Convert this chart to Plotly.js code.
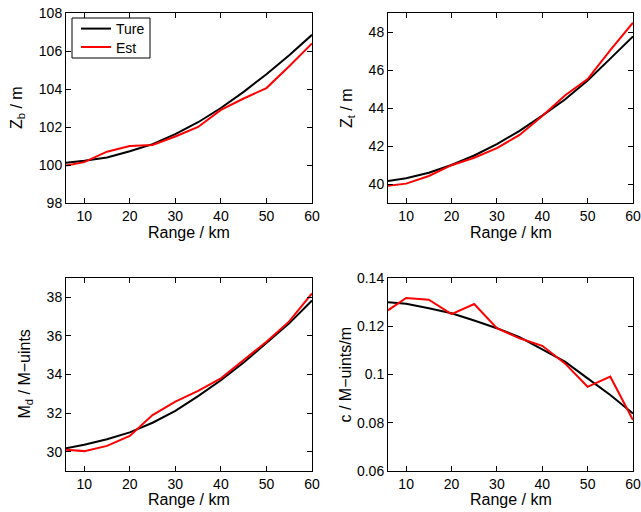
<!DOCTYPE html>
<html>
<head>
<meta charset="utf-8">
<script src="https://cdn.plot.ly/plotly-3.0.1.min.js"></script>
<style>html,body{margin:0;padding:0;background:#fff;}#plot{width:641px;height:512px;}</style>
</head>
<body>
<div id="plot"></div>
<script>
// Range (km)
var range = [6, 10, 15, 20, 25, 30, 35, 40, 45, 50, 55, 60];

// Z_b / m
var zbTrue = [100.12, 100.22, 100.4, 100.72, 101.1, 101.62, 102.25, 103.0, 103.85, 104.78, 105.78, 106.85];
var zbEst  = [99.97, 100.15, 100.7, 101.0, 101.05, 101.5, 102.0, 102.9, 103.5, 104.05, 105.2, 106.4];

// Z_t / m
var ztTrue = [40.16, 40.3, 40.59, 41.0, 41.5, 42.1, 42.8, 43.6, 44.45, 45.45, 46.6, 47.77];
var ztEst  = [39.91, 40.02, 40.42, 40.99, 41.38, 41.89, 42.58, 43.58, 44.66, 45.52, 47.05, 48.49];

// M_d / M-uints
var mdTrue = [30.18, 30.36, 30.65, 31.0, 31.5, 32.12, 32.88, 33.7, 34.62, 35.65, 36.65, 37.83];
var mdEst  = [30.1, 30.03, 30.3, 30.82, 31.9, 32.6, 33.15, 33.8, 34.75, 35.7, 36.75, 38.2];

// c / M-uints/m
var cTrue = [0.1299, 0.1293, 0.1275, 0.1254, 0.1224, 0.1192, 0.1155, 0.1105, 0.1053, 0.0984, 0.0915, 0.0838];
var cEst  = [0.1266, 0.1317, 0.1310, 0.1250, 0.1292, 0.1192, 0.1150, 0.1119, 0.1046, 0.0949, 0.0991, 0.0811];

var seriesNames = ['Ture', 'Est'];
var xTicks = [10, 20, 30, 40, 50, 60];
var xTitle = 'Range / km';
var yTitles = ['Z<sub>b</sub> / m', 'Z<sub>t</sub> / m', 'M<sub>d</sub> / M\u2212uints', 'c / M\u2212uints/m'];

var W = 641, H = 512;
var xdom = [[66/W, 312/W], [388/W, 633/W]];
var ydom = [[1 - 203/H, 1 - 13/H], [1 - 471/H, 1 - 278/H]];
// title centres (px)
var yTitleX = [17, 347, 25, 345];
var xTitleY = [232, 499.5];

var panels = [
  {t: zbTrue, e: zbEst, yr: [98, 108], yt: [98, 100, 102, 104, 106, 108]},
  {t: ztTrue, e: ztEst, yr: [39, 49], yt: [40, 42, 44, 46, 48]},
  {t: mdTrue, e: mdEst, yr: [29, 39], yt: [30, 32, 34, 36, 38]},
  {t: cTrue, e: cEst, yr: [0.06, 0.14], yt: [0.06, 0.08, 0.1, 0.12, 0.14], tt: ['0.06','0.08','0.1','0.12','0.14']}
];

var fam = 'Liberation Sans, Arial, sans-serif';
var traces = [];
var annotations = [];
var layout = {
  width: W, height: H,
  margin: {l: 0, r: 0, t: 0, b: 0},
  paper_bgcolor: '#fff', plot_bgcolor: '#fff',
  font: {family: fam, size: 14, color: '#000'},
  showlegend: true,
  legend: {
    x: 76/W, y: 1 - 29/H, xanchor: 'left', yanchor: 'middle',
    borderwidth: 0, bgcolor: 'rgba(0,0,0,0)',
    font: {family: fam, size: 14, color: '#000'}
  },
  legend2: {
    x: 76/W, y: 1 - 47.5/H, xanchor: 'left', yanchor: 'middle',
    borderwidth: 0, bgcolor: 'rgba(0,0,0,0)',
    font: {family: fam, size: 14, color: '#000'}
  },
  shapes: [{
    type: 'rect', xref: 'paper', yref: 'paper',
    x0: 72/W, x1: 150/W, y0: 1 - 58/H, y1: 1 - 18/H,
    line: {color: '#000', width: 1}, fillcolor: '#fff', layer: 'above'
  }]
};

panels.forEach(function(p, i) {
  var n = i + 1;
  var xa = n === 1 ? 'x' : 'x' + n;
  var ya = n === 1 ? 'y' : 'y' + n;
  traces.push({x: range, y: p.t, xaxis: xa, yaxis: ya, mode: 'lines', name: seriesNames[0],
    line: {color: '#000', width: 2}, showlegend: i === 0, legend: 'legend'});
  traces.push({x: range, y: p.e, xaxis: xa, yaxis: ya, mode: 'lines', name: seriesNames[1],
    line: {color: '#ff0000', width: 2}, showlegend: i === 0, legend: 'legend2'});
  var col = i % 2, row = Math.floor(i / 2);
  var axBase = {
    showline: true, linecolor: '#000', linewidth: 1, mirror: 'ticks',
    ticks: 'inside', ticklen: 5, tickcolor: '#000', tickwidth: 1,
    showgrid: false, zeroline: false, automargin: false,
    tickfont: {family: fam, size: 14, color: '#000'}
  };
  var xk = n === 1 ? 'xaxis' : 'xaxis' + n;
  var yk = n === 1 ? 'yaxis' : 'yaxis' + n;
  layout[xk] = Object.assign({}, axBase, {
    domain: xdom[col], anchor: ya, range: [6, 60], tickvals: xTicks
  });
  var yax = Object.assign({}, axBase, {
    domain: ydom[row], anchor: xa, range: p.yr, tickvals: p.yt
  });
  if (p.tt) yax.ticktext = p.tt;
  layout[yk] = yax;
  var yd = ydom[row], xd = xdom[col];
  annotations.push({
    text: yTitles[i], xref: 'paper', yref: 'paper',
    x: yTitleX[i] / W, y: (yd[0] + yd[1]) / 2,
    xanchor: 'center', yanchor: 'middle', textangle: -90, showarrow: false,
    font: {family: fam, size: 16, color: '#000'}
  });
  annotations.push({
    text: xTitle, xref: 'paper', yref: 'paper',
    x: (xd[0] + xd[1]) / 2, y: 1 - xTitleY[row] / H,
    xanchor: 'center', yanchor: 'middle', showarrow: false,
    font: {family: fam, size: 16, color: '#000'}
  });
});
layout.annotations = annotations;

Plotly.newPlot('plot', traces, layout, {staticPlot: true, displayModeBar: false});
</script>
</body>
</html>
